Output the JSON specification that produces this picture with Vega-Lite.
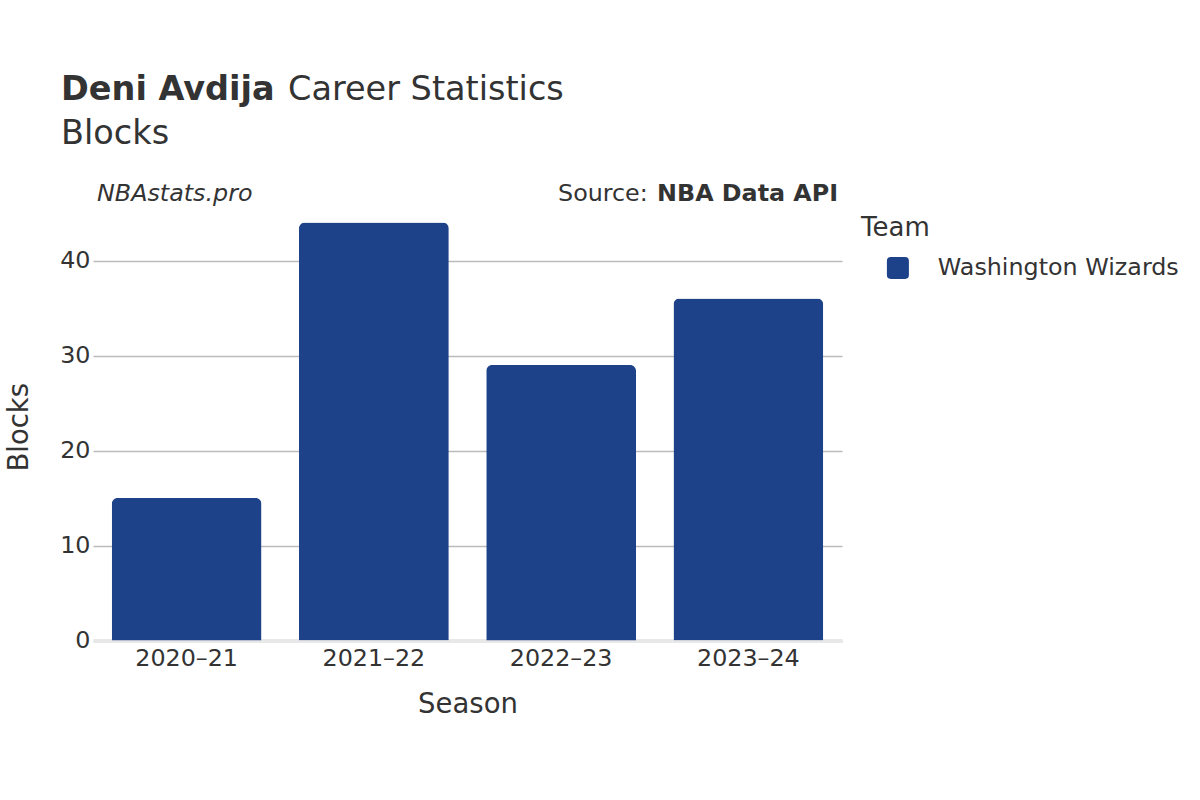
{
  "$schema": "https://vega.github.io/schema/vega-lite/v6.json",
  "width": 749,
  "height": 427.5,
  "autosize": {"type": "none"},
  "padding": {"left": 93, "top": 213, "right": 358, "bottom": 159.5},
  "background": "white",
  "config": {
    "font": "DejaVu Sans",
    "view": {"stroke": null},
    "text": {"font": "DejaVu Sans", "color": "#333333"}
  },
  "layer": [
    {
      "data": {
        "values": [
          {"season": "2020–21", "blocks": 15, "team": "Washington Wizards"},
          {"season": "2021–22", "blocks": 44, "team": "Washington Wizards"},
          {"season": "2022–23", "blocks": 29, "team": "Washington Wizards"},
          {"season": "2023–24", "blocks": 36, "team": "Washington Wizards"}
        ]
      },
      "mark": {"type": "bar", "cornerRadiusTopLeft": 6, "cornerRadiusTopRight": 6},
      "encoding": {
        "x": {
          "field": "season",
          "type": "nominal",
          "sort": null,
          "scale": {"paddingInner": 0.2, "paddingOuter": 0.1},
          "axis": {
            "title": "Season",
            "titleFontSize": 27.5,
            "titleFontWeight": "normal",
            "titleColor": "#333333",
            "titlePadding": 20,
            "labelFontSize": 23.8,
            "labelColor": "#333333",
            "labelAngle": 0,
            "labelPadding": 6,
            "ticks": false,
            "domainColor": "#e8e8e8",
            "domainWidth": 4,
            "grid": false
          }
        },
        "y": {
          "field": "blocks",
          "type": "quantitative",
          "scale": {"domain": [0, 45], "nice": false},
          "axis": {
            "title": "Blocks",
            "titleFontSize": 27.5,
            "titleFontWeight": "normal",
            "titleColor": "#333333",
            "titlePadding": 26,
            "values": [0, 10, 20, 30, 40],
            "labelFontSize": 23.8,
            "labelColor": "#333333",
            "labelPadding": 3,
            "ticks": false,
            "domain": false,
            "grid": true,
            "gridColor": "#bbbbbb",
            "gridWidth": 1.5
          }
        },
        "color": {
          "field": "team",
          "type": "nominal",
          "scale": {"range": ["#1d428a"]},
          "legend": {
            "title": "Team",
            "titleFontSize": 26,
            "titleFontWeight": "normal",
            "titleColor": "#333333",
            "titlePadding": 15,
            "labelFontSize": 23.8,
            "labelColor": "#333333",
            "labelLimit": 400,
            "symbolType": "M -0.65 -1 L 0.65 -1 Q 1 -1 1 -0.65 L 1 0.65 Q 1 1 0.65 1 L -0.65 1 Q -1 1 -1 0.65 L -1 -0.65 Q -1 -1 -0.65 -1 Z",
            "symbolSize": 484,
            "symbolOpacity": 1,
            "symbolStrokeWidth": 0,
            "symbolOffset": 25,
            "labelOffset": 28,
            "offset": 17,
            "padding": 2
          }
        }
      }
    },
    {
      "data": {"values": [{"t": "Deni Avdija"}]},
      "mark": {"type": "text", "align": "left", "baseline": "alphabetic", "fontSize": 33.5, "fontWeight": "bold", "dx": -50.7},
      "encoding": {
        "text": {"field": "t"},
        "x": {"datum": "2020–21", "type": "nominal", "bandPosition": 0},
        "y": {"datum": 56.9, "type": "quantitative"}
      }
    },
    {
      "data": {"values": [{"t": "Career Statistics"}]},
      "mark": {"type": "text", "align": "left", "baseline": "alphabetic", "fontSize": 33.5, "dx": 176.3},
      "encoding": {
        "text": {"field": "t"},
        "x": {"datum": "2020–21", "type": "nominal", "bandPosition": 0},
        "y": {"datum": 56.9, "type": "quantitative"}
      }
    },
    {
      "data": {"values": [{"t": "Blocks"}]},
      "mark": {"type": "text", "align": "left", "baseline": "alphabetic", "fontSize": 33.5, "dx": -50.7},
      "encoding": {
        "text": {"field": "t"},
        "x": {"datum": "2020–21", "type": "nominal", "bandPosition": 0},
        "y": {"datum": 52.3, "type": "quantitative"}
      }
    },
    {
      "data": {"values": [{"t": "NBAstats.pro"}]},
      "mark": {"type": "text", "align": "left", "baseline": "alphabetic", "fontSize": 23.8, "fontStyle": "italic", "dx": -14.7},
      "encoding": {
        "text": {"field": "t"},
        "x": {"datum": "2020–21", "type": "nominal", "bandPosition": 0},
        "y": {"datum": 46.3, "type": "quantitative"}
      }
    },
    {
      "data": {"values": [{"t": "NBA Data API"}]},
      "mark": {"type": "text", "align": "right", "baseline": "alphabetic", "fontSize": 23.8, "fontWeight": "bold", "dx": 14.8},
      "encoding": {
        "text": {"field": "t"},
        "x": {"datum": "2023–24", "type": "nominal", "bandPosition": 1},
        "y": {"datum": 46.3, "type": "quantitative"}
      }
    },
    {
      "data": {"values": [{"t": "Source:"}]},
      "mark": {"type": "text", "align": "right", "baseline": "alphabetic", "fontSize": 23.8, "dx": -175.5},
      "encoding": {
        "text": {"field": "t"},
        "x": {"datum": "2023–24", "type": "nominal", "bandPosition": 1},
        "y": {"datum": 46.3, "type": "quantitative"}
      }
    }
  ]
}
